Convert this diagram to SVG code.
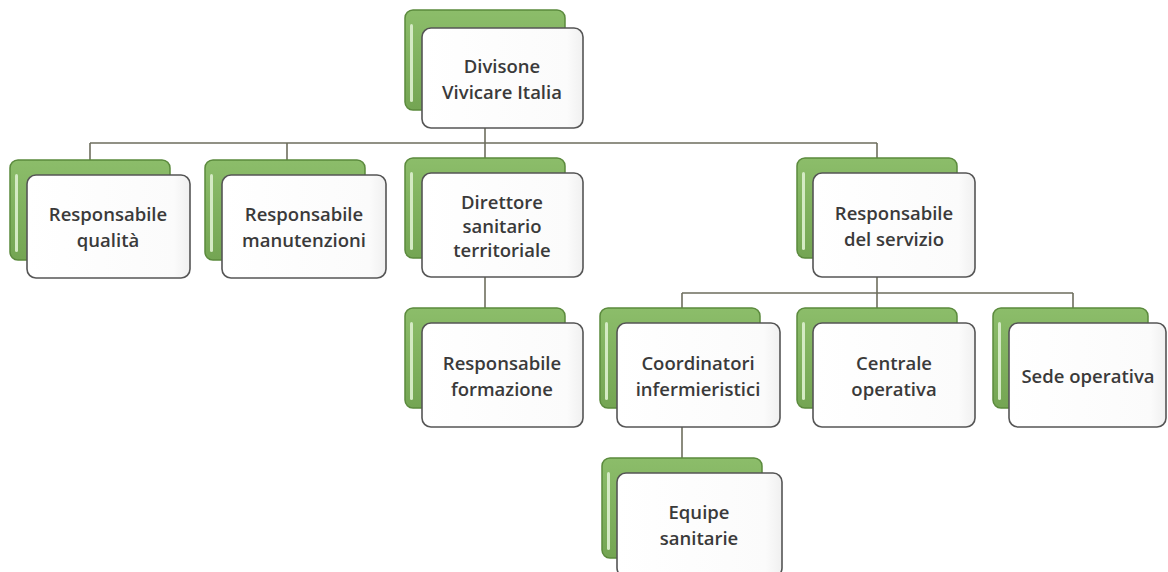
<svg xmlns="http://www.w3.org/2000/svg" width="1168" height="572" viewBox="0 0 1168 572">
<defs>
<linearGradient id="gg" x1="0" y1="0" x2="0" y2="1">
<stop offset="0" stop-color="#8cbd6a"/>
<stop offset="1" stop-color="#74a553"/>
</linearGradient>
<linearGradient id="wg" x1="0" y1="0" x2="1" y2="0">
<stop offset="0" stop-color="#ffffff"/>
<stop offset="0.9" stop-color="#fbfbfb"/>
<stop offset="1" stop-color="#f0f0f0"/>
</linearGradient>
</defs>
<style>
.back{fill:url(#gg);stroke:#5b8a3d;stroke-width:1.5}
.hl{fill:#d4eac4}
.front{fill:url(#wg);stroke:#555;stroke-width:1.6}
.lbl{font-family:"Open Sans","Noto Sans",sans-serif;font-size:18.5px;font-weight:600;fill:#3a3a3a;text-anchor:middle;dominant-baseline:central}
.conn{fill:none;stroke:#6e6e5e;stroke-width:1.6}
</style>
<rect width="1168" height="572" fill="#ffffff"/>
<g id="connectors">
<path class="conn" d="M485 128V143M90 143H877M90 143V160M287 143V160M485 143V158M877 143V158"/>
<path class="conn" d="M485 277V308"/>
<path class="conn" d="M877 277V293M682 293H1073M682 293V308M877 293V308M1073 293V308"/>
<path class="conn" d="M682 427V458"/>
</g>
<g id="n-divisione">
<rect class="back" x="405" y="10" width="160" height="100" rx="8"/>
<rect class="hl" x="410" y="24" width="3" height="78" rx="1.5"/>
<rect class="front" x="422" y="28" width="161" height="100" rx="9"/>
<text class="lbl" x="502" y="65">Divisone</text>
<text class="lbl" x="502" y="91">Vivicare Italia</text>
</g>
<g id="n-qualita">
<rect class="back" x="10" y="160" width="160" height="100" rx="8"/>
<rect class="hl" x="15" y="174" width="3" height="78" rx="1.5"/>
<rect class="front" x="27" y="175" width="163" height="103" rx="9"/>
<text class="lbl" x="108" y="213">Responsabile</text>
<text class="lbl" x="108" y="239">qualità</text>
</g>
<g id="n-manutenzioni">
<rect class="back" x="205" y="160" width="160" height="100" rx="8"/>
<rect class="hl" x="210" y="174" width="3" height="78" rx="1.5"/>
<rect class="front" x="222" y="175" width="164" height="103" rx="9"/>
<text class="lbl" x="304" y="213">Responsabile</text>
<text class="lbl" x="304" y="239">manutenzioni</text>
</g>
<g id="n-direttore">
<rect class="back" x="405" y="158" width="160" height="100" rx="8"/>
<rect class="hl" x="410" y="172" width="3" height="78" rx="1.5"/>
<rect class="front" x="422" y="173" width="161" height="104" rx="9"/>
<text class="lbl" x="502" y="201">Direttore</text>
<text class="lbl" x="502" y="225">sanitario</text>
<text class="lbl" x="502" y="249">territoriale</text>
</g>
<g id="n-servizio">
<rect class="back" x="797" y="158" width="160" height="100" rx="8"/>
<rect class="hl" x="802" y="172" width="3" height="78" rx="1.5"/>
<rect class="front" x="813" y="173" width="162" height="104" rx="9"/>
<text class="lbl" x="894" y="212">Responsabile</text>
<text class="lbl" x="894" y="238">del servizio</text>
</g>
<g id="n-formazione">
<rect class="back" x="405" y="308" width="160" height="100" rx="8"/>
<rect class="hl" x="410" y="322" width="3" height="78" rx="1.5"/>
<rect class="front" x="422" y="323" width="161" height="104" rx="9"/>
<text class="lbl" x="502" y="362">Responsabile</text>
<text class="lbl" x="502" y="388">formazione</text>
</g>
<g id="n-coordinatori">
<rect class="back" x="600" y="308" width="160" height="100" rx="8"/>
<rect class="hl" x="605" y="322" width="3" height="78" rx="1.5"/>
<rect class="front" x="617" y="323" width="163" height="104" rx="9"/>
<text class="lbl" x="698" y="362">Coordinatori</text>
<text class="lbl" x="698" y="388">infermieristici</text>
</g>
<g id="n-centrale">
<rect class="back" x="797" y="308" width="160" height="100" rx="8"/>
<rect class="hl" x="802" y="322" width="3" height="78" rx="1.5"/>
<rect class="front" x="813" y="323" width="162" height="104" rx="9"/>
<text class="lbl" x="894" y="362">Centrale</text>
<text class="lbl" x="894" y="388">operativa</text>
</g>
<g id="n-sede">
<rect class="back" x="993" y="308" width="155" height="100" rx="8"/>
<rect class="hl" x="998" y="322" width="3" height="78" rx="1.5"/>
<rect class="front" x="1009" y="323" width="157" height="104" rx="9"/>
<text class="lbl" x="1088" y="375">Sede operativa</text>
</g>
<g id="n-equipe">
<rect class="back" x="602" y="458" width="160" height="100" rx="8"/>
<rect class="hl" x="607" y="472" width="3" height="78" rx="1.5"/>
<rect class="front" x="617" y="473" width="165" height="104" rx="9"/>
<text class="lbl" x="699" y="511">Equipe</text>
<text class="lbl" x="699" y="537">sanitarie</text>
</g>
</svg>
